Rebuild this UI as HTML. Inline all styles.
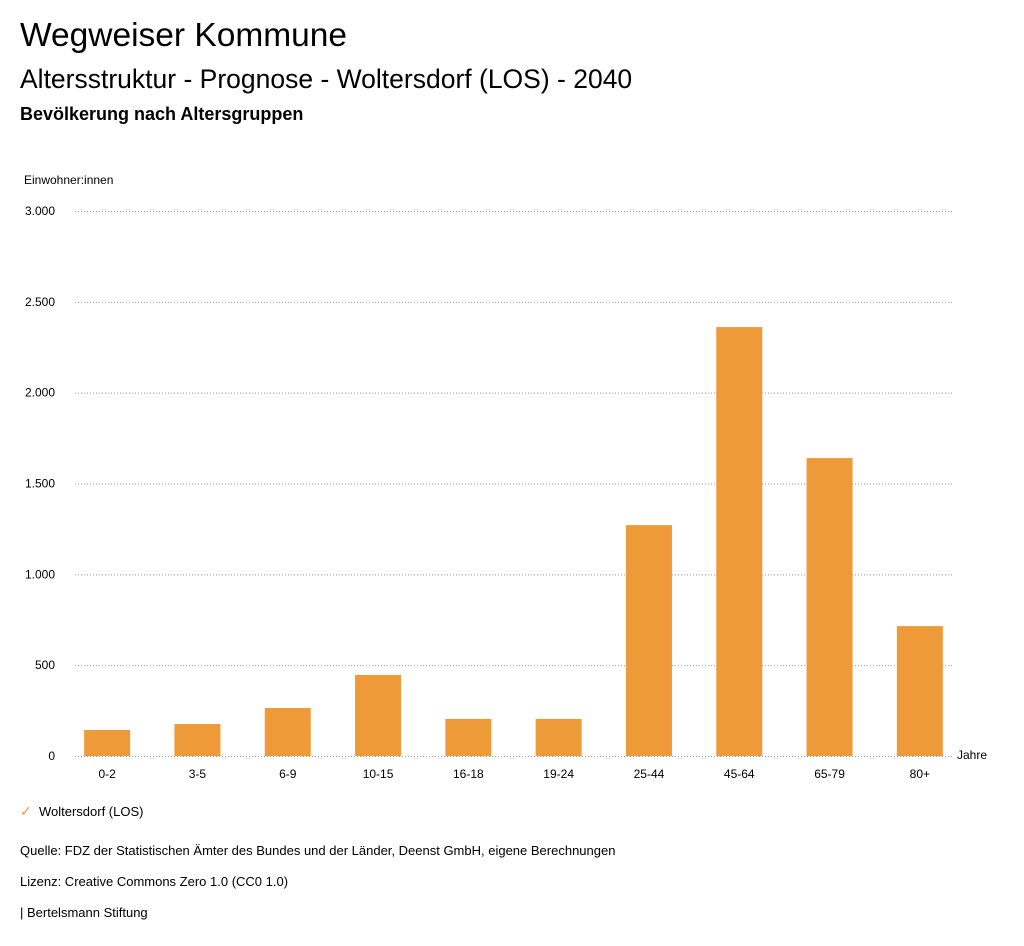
<!DOCTYPE html>
<html><head><meta charset="utf-8"><style>
body{margin:0;width:1024px;height:946px;background:#fff;font-family:"Liberation Sans",sans-serif;color:#000;position:relative;overflow:hidden}
.t{position:absolute;white-space:nowrap}
</style></head><body>
<div class="t" style="left:20px;top:17px;font-size:33.5px">Wegweiser Kommune</div>
<div class="t" style="left:20px;top:64px;font-size:26.5px">Altersstruktur - Prognose - Woltersdorf (LOS) - 2040</div>
<div class="t" style="left:20px;top:104px;font-size:18px;font-weight:bold">Bevölkerung nach Altersgruppen</div>
<svg id="chart" width="1024" height="800" style="position:absolute;left:0;top:0" font-family="Liberation Sans, sans-serif"></svg>
<div class="t" style="left:20px;top:803px;font-size:13px"><span style="color:#ee9a38;font-size:14px">✓</span>&nbsp;&nbsp;Woltersdorf (LOS)</div>
<div class="t" style="left:20px;top:843px;font-size:13px">Quelle: FDZ der Statistischen Ämter des Bundes und der Länder, Deenst GmbH, eigene Berechnungen</div>
<div class="t" style="left:20px;top:874px;font-size:13px">Lizenz: Creative Commons Zero 1.0 (CC0 1.0)</div>
<div class="t" style="left:20px;top:905px;font-size:13px">| Bertelsmann Stiftung</div>
<script>
const categories=["0-2","3-5","6-9","10-15","16-18","19-24","25-44","45-64","65-79","80+"];
const values=[143,176,264,446,204,204,1271,2361,1640,715];
const yTicks=[0,500,1000,1500,2000,2500,3000];
const yTickLabels=["0","500","1.000","1.500","2.000","2.500","3.000"];
const svg=document.getElementById('chart');
const NS="http://www.w3.org/2000/svg";
const y0=756,y1=211,maxV=3000;
const y=v=>y0-(v/maxV)*(y0-y1);
const band=90.3,x0=62;
const xc=i=>x0+band*(i+0.5);
function mk(t,a){const e=document.createElementNS(NS,t);for(const k in a)e.setAttribute(k,a[k]);svg.appendChild(e);return e;}
yTicks.forEach((v,i)=>{
 const l=mk('line',{x1:75,x2:953,y1:y(v)+0.5,y2:y(v)+0.5,stroke:'#999','stroke-dasharray':'1,2'});
 
 
 const t=mk('text',{x:55,y:y(v)+4,'text-anchor':'end','font-size':12});
 t.textContent=yTickLabels[i];
 
 
});
categories.forEach((c,i)=>{
 const r=mk('rect',{x:xc(i)-23,y:y(values[i]),width:46,height:y0-y(values[i]),fill:'#ee9a38'});
 
 
 const t=mk('text',{x:xc(i),y:778,'text-anchor':'middle','font-size':12});
 t.textContent=c;
 
 
});
const yt=mk('text',{x:24,y:184,'font-size':12});yt.textContent='Einwohner:innen';


const xt=mk('text',{x:957,y:759,'font-size':12});xt.textContent='Jahre';


</script>
</body></html>
